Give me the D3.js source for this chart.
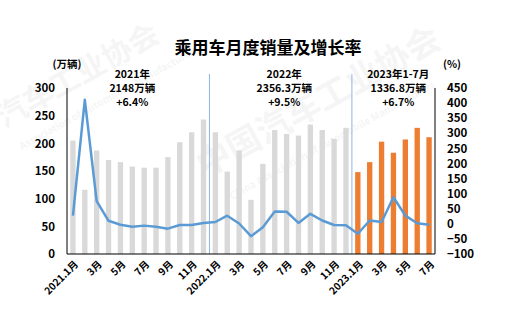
<!DOCTYPE html>
<html>
<head>
<meta charset="utf-8">
<script src="https://cdn.jsdelivr.net/npm/d3@7"></script>
<style>
  body { margin: 0; background: #fff; }
  svg text { font-family: "Noto Sans CJK SC", "Noto Sans", sans-serif; font-weight: bold; }
</style>
</head>
<body>
<script>
// months 2021.1 - 2023.7
const months = ["2021.1月","2月","3月","4月","5月","6月","7月","8月","9月","10月","11月","12月",
  "2022.1月","2月","3月","4月","5月","6月","7月","8月","9月","10月","11月","12月",
  "2023.1月","2月","3月","4月","5月","6月","7月"];
// monthly sales (万辆)
const sales = [205, 116, 187, 170, 166, 158, 156, 156, 175, 202, 220, 243,
  220, 149, 187, 98, 163, 224, 217, 214, 234, 224, 208, 228,
  148, 166, 203, 183, 207, 228, 211];
// year-on-year growth (%)
const growth = [27, 411, 75, 10, -3, -10, -6, -10, -16, -4, -4, 3,
  6, 27, 1, -41, -11, 41, 40, 3, 33, 11, -4, -5,
  -33, 11, 6, 88, 27, 2, -3];
const leftTicks = [0, 50, 100, 150, 200, 250, 300];
const rightTicks = [-100, -50, 0, 50, 100, 150, 200, 250, 300, 350, 400, 450];
const yearNotes = [
  { at: 5.0, lines: ["2021年", "2148万辆", "+6.4%"] },
  { at: 17.8, lines: ["2022年", "2356.3万辆", "+9.5%"] },
  { at: 27.4, lines: ["2023年1-7月", "1336.8万辆", "+6.7%"] }
];

const W = 506, H = 309;
const mLeft = 67, mRight = 435, mTop = 88, mBottom = 254;

const svg = d3.select("body").append("svg")
  .attr("width", W).attr("height", H);

// watermark
const wm = svg.append("g").attr("fill", "#000").attr("opacity", 0.035);
wm.append("text").attr("transform", "translate(4,128) rotate(-29)")
  .attr("font-size", 30).text("汽车工业协会");
wm.append("text").attr("transform", "translate(22,150) rotate(-29)")
  .attr("font-size", 10).text("Association of Automobile Manufacturers");
wm.append("text").attr("transform", "translate(205,178) rotate(-29)")
  .attr("font-size", 34).text("中国汽车工业协会");
wm.append("text").attr("transform", "translate(232,200) rotate(-29)")
  .attr("font-size", 10).text("China Association of Automobile Manufacturers");

const idx = d3.range(months.length);
const x = d3.scaleBand().domain(idx).range([mLeft, mRight])
  .paddingInner(0.55).paddingOuter(0.275);
const y = d3.scaleLinear().domain([0, 300]).range([mBottom, mTop]);
const y2 = d3.scaleLinear().domain([-100, 450]).range([mBottom, mTop]);

// bars
svg.append("g").selectAll("rect").data(sales).join("rect")
  .attr("x", (d, i) => x(i))
  .attr("y", d => y(d))
  .attr("width", x.bandwidth())
  .attr("height", d => mBottom - y(d))
  .attr("fill", (d, i) => i >= 24 ? "#ed7d31" : "#d9d9d9");

// year separators
const sep = [11, 23].map(v => x(v) + x.bandwidth() / 2 + x.step() / 2);
svg.append("g").selectAll("line").data(sep).join("line")
  .attr("x1", d => d).attr("x2", d => d)
  .attr("y1", 74).attr("y2", mBottom)
  .attr("stroke", "#8fb4e0").attr("stroke-width", 1);

// growth line
const line = d3.line()
  .x((d, i) => x(i) + x.bandwidth() / 2)
  .y(d => y2(d));
svg.append("path").datum(growth)
  .attr("d", line)
  .attr("fill", "none")
  .attr("stroke", "#5b9bd5")
  .attr("stroke-width", 2.5)
  .attr("stroke-linejoin", "round");

// axes
const gl = svg.append("g").attr("transform", `translate(${mLeft},0)`)
  .call(d3.axisLeft(y).tickValues(leftTicks).tickSize(0).tickPadding(12));
const gr = svg.append("g").attr("transform", `translate(${mRight},0)`)
  .call(d3.axisRight(y2).tickValues(rightTicks).tickSize(0).tickPadding(12));
[gl, gr].forEach(g => {
  g.select(".domain").remove();
  g.selectAll("text").attr("font-size", 11.5).attr("fill", "#000")
    .style("font-family", "'Noto Sans CJK SC', sans-serif").style("font-weight", "bold");
});

svg.append("line").attr("x1", mLeft).attr("x2", mLeft).attr("y1", mTop).attr("y2", mBottom)
  .attr("stroke", "#000").attr("stroke-width", 1);
svg.append("line").attr("x1", mRight).attr("x2", mRight).attr("y1", mTop).attr("y2", mBottom)
  .attr("stroke", "#000").attr("stroke-width", 1);
svg.append("line").attr("x1", mLeft).attr("x2", mRight).attr("y1", mBottom).attr("y2", mBottom)
  .attr("stroke", "#000").attr("stroke-width", 1.2);

// x labels, every other month
svg.append("g").selectAll("text").data(idx.filter(i => i % 2 === 0)).join("text")
  .attr("transform", i => `translate(${x(i) + x.bandwidth() / 2 + 4},${mBottom + 9}) rotate(-45)`)
  .attr("text-anchor", "end")
  .attr("dominant-baseline", "middle")
  .attr("font-size", 10)
  .text(i => months[i]);

// title and units
svg.append("text").attr("x", 268).attr("y", 54).attr("text-anchor", "middle")
  .attr("font-size", 17).text("乘用车月度销量及增长率");
svg.append("text").attr("x", 67).attr("y", 68).attr("text-anchor", "middle")
  .attr("font-size", 10.5).text("(万辆)");
svg.append("text").attr("x", 452).attr("y", 68).attr("text-anchor", "middle")
  .attr("font-size", 10.5).text("(%)");

// year notes
yearNotes.forEach(n => {
  const cx = x(Math.floor(n.at)) + x.bandwidth() / 2 + (n.at % 1) * x.step();
  n.lines.forEach((t, k) => {
    svg.append("text").attr("x", cx).attr("y", 78 + k * 14)
      .attr("text-anchor", "middle").attr("font-size", 10.5).text(t);
  });
});
</script>
</body>
</html>
